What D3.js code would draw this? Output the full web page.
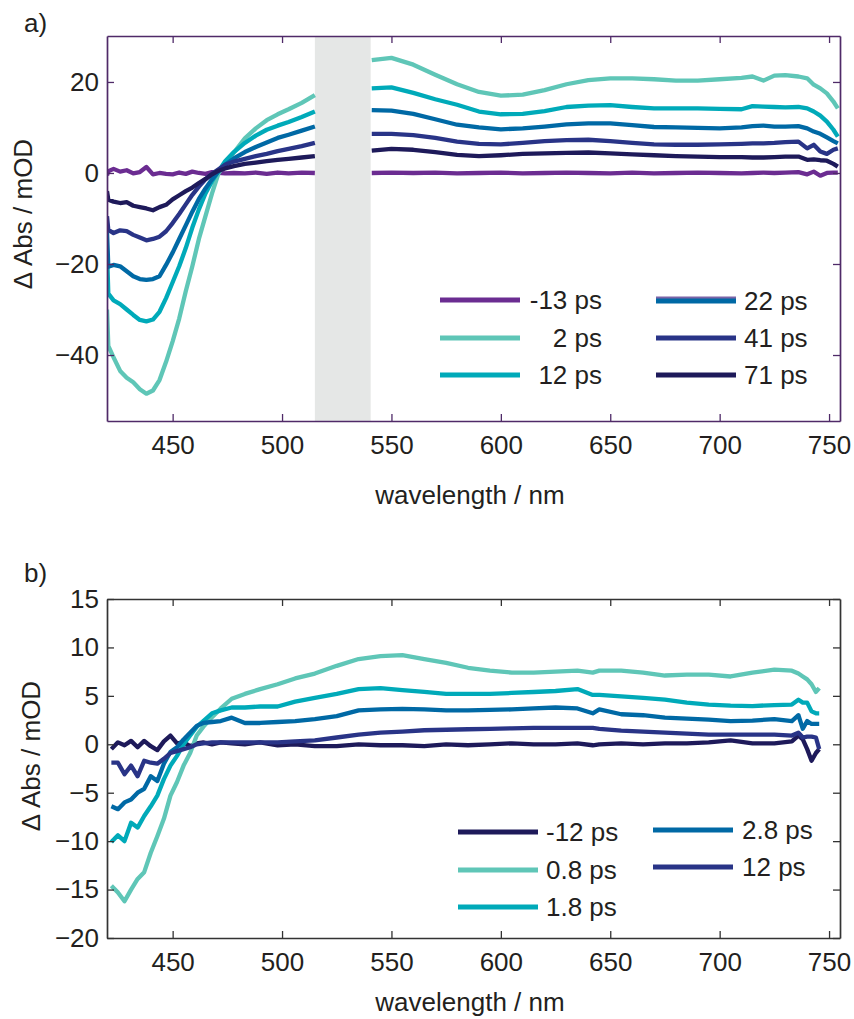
<!DOCTYPE html>
<html>
<head>
<meta charset="utf-8">
<script src="https://cdnjs.cloudflare.com/ajax/libs/d3/7.8.5/d3.min.js"></script>
<style>
body{margin:0;background:#fff}
svg{display:block}
text{font-family:"Liberation Sans",Arial,sans-serif;fill:#231f20}
</style>
</head>
<body>
<svg id="graph" width="854" height="1019"></svg>
<script>
// ---------- panel a data (gap 515-541 nm hidden by the grey band)
const waveA = [420,420.6,423,426,429,432,435,438,441,444,447,450,453,456,459,462,465,468,471,474,478,483,488,493,498,503,509,515,
  528,
  541,550,560,570,580,590,600,610,620,630,640,650,660,670,680,690,700,710,715,720,725,730,736,740,743,746,749,752,754]

const absA_m13 = [-0.5,0.4,0.9,0.3,0.6,-0.1,0.2,1.3,-0.3,0,-0.2,-0.3,0.1,-0.2,0.3,0,-0.2,0.2,0,-0.1,0,-0.1,0.1,-0.2,0.1,-0.1,0.1,0,
  null,
  0,0.1,0,0.1,-0.1,0,0.1,-0.1,0,0.1,0,-0.1,0.1,-0.1,0,0.1,0,-0.1,0,0.1,0,0.1,0.2,-0.3,0.3,-0.6,0,0.1,0.1]
const absA_2 = [-30,-38,-40.5,-43.5,-45,-46,-47.5,-48.5,-47.8,-45.5,-41.5,-37,-32,-26,-20.5,-14.5,-9.5,-4.5,0,2,4.5,7.6,9.8,11.6,12.9,14,15.4,17.1,
  null,
  24.8,25.3,23.8,21.6,19.5,17.8,17.0,17.2,18.2,19.5,20.4,20.8,20.8,20.6,20.3,20.3,20.6,20.9,21.2,20.3,21.4,21.5,21.2,20.8,19.4,18.6,17.5,15.7,14.2]
const absA_12 = [-17,-26.5,-28,-28.8,-30,-31.2,-32.3,-32.6,-32.2,-30.5,-27.5,-24,-20.5,-16.5,-12,-8,-4.5,-1.8,0.4,2.6,4.6,6.6,8.2,9.5,10.4,11.2,12.3,13.5,
  null,
  18.6,18.8,17.6,16.2,15.0,13.5,12.9,13.0,13.6,14.5,14.8,14.9,14.5,14.2,14.2,14.2,14.1,14.0,14.7,14.6,14.5,14.4,14.5,14.2,13.5,12.6,11.3,9.5,8.0]
const absA_22 = [-13,-20.6,-20.2,-20.5,-21.6,-22.7,-23.3,-23.5,-23.3,-22.7,-20.2,-17.5,-14.5,-11.5,-8.5,-5.7,-3.4,-1.4,0.4,1.8,3.2,4.6,5.7,6.7,7.7,8.4,9.3,10.2,
  null,
  13.8,13.7,13.0,11.8,10.6,10.0,9.6,9.8,10.2,10.7,10.9,10.9,10.5,10.1,10.0,9.9,9.8,10.0,10.3,10.4,10.2,10.2,10.3,9.8,9.1,8.6,7.8,7.0,6.5]
const absA_41 = [-9.5,-12.5,-13.2,-12.6,-12.8,-13.6,-14.2,-14.8,-14.5,-14,-12.8,-11,-9,-6.9,-4.8,-3,-1.4,-0.2,0.8,1.8,2.5,3.1,3.7,4.2,4.8,5.3,5.9,6.6,
  null,
  8.6,8.6,8.3,7.7,6.9,6.4,6.3,6.6,7.0,7.2,7.3,7.0,6.6,6.3,6.2,6.2,6.3,6.4,6.5,6.5,6.6,6.8,6.9,5.4,6.2,4.7,4.2,5.1,5.4]
const absA_71 = [-4,-5.9,-6.3,-6.6,-6.4,-7.2,-7.5,-7.8,-8.2,-7.5,-7,-5.8,-4.9,-4,-3.2,-2.2,-1.3,-0.3,0.5,1,1.5,2,2.3,2.6,2.9,3.1,3.4,3.7,
  null,
  4.9,5.3,5.1,4.6,4.0,3.7,3.9,4.2,4.3,4.4,4.5,4.3,4.1,3.9,3.7,3.6,3.5,3.5,3.4,3.4,3.5,3.6,3.6,2.9,3.0,2.8,2.7,2.0,1.4]

const labelsA = ['-13 ps','2 ps','12 ps','22 ps','41 ps','71 ps']
const bandA = [515, 540.5]

// ---------- panel b data
const waveB = [422,425,428,431,434,437,440,443,446,449,452,455,458,461,464,468,472,477,483,490,498,506,515,525,535,545,555,565,575,585,
  595,605,615,625,635,642,645,655,665,675,685,695,705,715,725,733,736,738,740,742,744,745.5]

const absB_m12 = [-0.5,0.2,-0.1,0.35,-0.3,0.35,-0.2,-0.6,0.3,0.9,0.1,0.2,-0.2,0.1,0.2,0,0.2,0.1,0,0.2,-0.1,0,-0.2,-0.2,0,-0.1,-0.1,-0.2,0,-0.1,
  0,0.1,0,0,0.1,-0.1,0,0.1,0,0.1,0.1,0.2,0.4,0.1,0.1,0.3,0.9,0.5,-0.5,-1.7,-0.9,-0.5]
const absB_08 = [-14.6,-15.3,-16.2,-15,-13.9,-13.2,-11.2,-9.5,-7.7,-5.3,-3.9,-2.2,-0.9,0.9,1.8,2.8,3.7,4.7,5.2,5.7,6.2,6.8,7.3,8.1,8.8,9.1,9.2,8.8,8.4,7.9,
  7.6,7.4,7.4,7.5,7.6,7.4,7.6,7.6,7.4,7.1,7.2,7.2,7.0,7.4,7.7,7.6,7.3,7.0,6.7,6.2,5.4,5.8]
const absB_18 = [-10.1,-9.4,-10.0,-8.1,-8.6,-7.4,-6.4,-5.3,-3.6,-2.2,-1.2,0,0.9,1.8,2.4,3.2,3.5,3.8,3.8,3.9,3.9,4.4,4.8,5.2,5.7,5.8,5.6,5.4,5.2,5.2,
  5.2,5.3,5.4,5.5,5.7,5.1,5.1,4.95,4.8,4.6,4.3,4.1,4.0,3.95,4.05,4.1,4.6,4.3,4.3,3.4,3.2,3.2]
const absB_28 = [-6.4,-6.7,-6.0,-5.7,-5.0,-4.6,-3.3,-3.8,-2.0,-0.8,-0.3,0.5,1.2,1.9,2.2,2.3,2.4,2.75,2.2,2.2,2.3,2.4,2.6,2.9,3.5,3.6,3.65,3.6,3.5,3.5,
  3.55,3.6,3.7,3.8,3.7,3.2,3.6,3.1,3.0,2.75,2.65,2.55,2.4,2.45,2.6,2.4,3.0,1.6,2.4,2.1,2.1,2.1]
const absB_12 = [-1.9,-1.9,-3.1,-2.2,-3.3,-1.7,-1.9,-2.0,-1.5,-0.9,-0.7,-0.5,-0.3,0,0.1,0.2,0.2,0.2,0.2,0.2,0.2,0.3,0.4,0.7,1.0,1.2,1.3,1.45,1.5,1.55,
  1.6,1.65,1.7,1.7,1.7,1.7,1.6,1.4,1.3,1.2,1.1,1.0,1.0,1.0,1.0,0.9,1.2,0.7,0.8,0.8,0.7,-0.5]

const labelsB = ['-12 ps','0.8 ps','1.8 ps','2.8 ps','12 ps']

const xTicks = [450,500,550,600,650,700,750]
const yTicksA = [-40,-20,0,20]
const yTicksB = [-20,-15,-10,-5,0,5,10,15]

// colours
const cPurple = '#6b2c91', cTeal = '#5fc6b7', cCyan = '#00aab9', cBlue = '#0069a5', cIndigo = '#293487', cNavy = '#1e1a5a'

const svg = d3.select('#graph')
const fs = 26
const minus = d => d3.format('')(d).replace('-', '\u2212')

///////////////////////////////////////////////////

const drawPanel = (opt) => {
  const x = d3.scaleLinear().domain([420, 755]).range([107, 840])
  const y = d3.scaleLinear().domain(opt.ydom).range([opt.bottom, opt.top])
  const g = svg.append('g')

  g.append('clipPath').attr('id', 'clip' + opt.id)
    .append('rect').attr('x', 107).attr('y', opt.top).attr('width', 733).attr('height', opt.bottom - opt.top)

  if (opt.band) {
    g.append('rect')
      .attr('x', x(opt.band[0])).attr('y', opt.top)
      .attr('width', x(opt.band[1]) - x(opt.band[0]))
      .attr('height', opt.bottom - opt.top)
      .attr('fill', '#e5e7e6')
  }

  const line = d3.line()
    .defined(d => d[1] != null)
    .x(d => x(d[0]))
    .y(d => y(d[1]))

  opt.series.forEach(s => {
    g.append('path')
      .datum(opt.wave.map((w, i) => [w, s.values[i]]))
      .attr('d', line)
      .attr('clip-path', `url(#clip${opt.id})`)
      .attr('fill', 'none')
      .attr('stroke', s.color)
      .attr('stroke-width', 4.3)
      .attr('stroke-linejoin', 'round')
  })

  // axes, ticks inward
  const axes = [
    [d3.axisBottom(x).tickValues(xTicks).tickSize(-7).tickSizeOuter(0).tickPadding(15), `translate(0,${opt.bottom})`],
    [d3.axisTop(x).tickValues(xTicks).tickSize(-7).tickSizeOuter(0).tickFormat(''), `translate(0,${opt.top})`],
    [d3.axisLeft(y).tickValues(opt.yticks).tickSize(-7).tickSizeOuter(0).tickPadding(8).tickFormat(minus), 'translate(107,0)'],
    [d3.axisRight(y).tickValues(opt.yticks).tickSize(-7).tickSizeOuter(0).tickFormat(''), 'translate(840,0)']
  ]
  axes.forEach(([ax, tr]) => {
    const a = g.append('g').attr('transform', tr).attr('color', opt.axisColor).call(ax)
    a.selectAll('path').attr('stroke-width', 1.7)
    a.selectAll('line').attr('stroke-width', 1.3)
    a.selectAll('text').attr('font-size', fs).attr('font-family', null).style('fill', '#231f20')
  })

  g.append('text').attr('x', 470).attr('y', opt.xlabelY)
    .attr('text-anchor', 'middle').attr('font-size', fs)
    .text('wavelength / nm')
  g.append('text')
    .attr('transform', `translate(${opt.ylabelX},${opt.ylabelY}) rotate(-90)`)
    .attr('text-anchor', 'middle').attr('font-size', fs)
    .text('\u0394 Abs / mOD')
  g.append('text').attr('x', 24).attr('y', opt.tagY).attr('font-size', fs).text(opt.tag)

  // legend
  opt.legend.forEach(l => {
    if (l.under) {
      g.append('line').attr('x1', l.x1).attr('x2', l.x1 + 80).attr('y1', l.y - 3).attr('y2', l.y - 3)
        .attr('stroke', l.under).attr('stroke-width', 3)
    }
    g.append('line').attr('x1', l.x1).attr('x2', l.x1 + 80).attr('y1', l.y).attr('y2', l.y)
      .attr('stroke', l.color).attr('stroke-width', 5)
    g.append('text').attr('x', l.tx).attr('y', l.y + 9)
      .attr('text-anchor', l.anchor).attr('font-size', fs)
      .text(l.label)
  })
}

drawPanel({
  id: 'a', top: 36, bottom: 421, ydom: [-54.5, 30.1], yticks: yTicksA,
  axisColor: '#4f2a68', band: bandA, wave: waveA,
  series: [
    {color: cPurple, values: absA_m13},
    {color: cTeal, values: absA_2},
    {color: cCyan, values: absA_12},
    {color: cBlue, values: absA_22},
    {color: cIndigo, values: absA_41},
    {color: cNavy, values: absA_71}
  ],
  xlabelY: 504, ylabelX: 32, ylabelY: 214, tag: 'a)', tagY: 32,
  legend: [
    {label: labelsA[0], color: cPurple, x1: 440, tx: 602, anchor: 'end', y: 300},
    {label: labelsA[1], color: cTeal, x1: 440, tx: 602, anchor: 'end', y: 338},
    {label: labelsA[2], color: cCyan, x1: 440, tx: 602, anchor: 'end', y: 375},
    {label: labelsA[3], color: cBlue, under: '#7b64a8', x1: 656, tx: 744, anchor: 'start', y: 301},
    {label: labelsA[4], color: cIndigo, x1: 656, tx: 744, anchor: 'start', y: 338},
    {label: labelsA[5], color: cNavy, x1: 656, tx: 744, anchor: 'start', y: 375}
  ]
})

drawPanel({
  id: 'b', top: 599, bottom: 938, ydom: [-20, 15], yticks: yTicksB,
  axisColor: '#333333', band: null, wave: waveB,
  series: [
    {color: cNavy, values: absB_m12},
    {color: cTeal, values: absB_08},
    {color: cCyan, values: absB_18},
    {color: cBlue, values: absB_28},
    {color: cIndigo, values: absB_12}
  ],
  xlabelY: 1011, ylabelX: 40, ylabelY: 756, tag: 'b)', tagY: 582,
  legend: [
    {label: labelsB[0], color: cNavy, x1: 458, tx: 546, anchor: 'start', y: 832},
    {label: labelsB[1], color: cTeal, x1: 458, tx: 546, anchor: 'start', y: 870},
    {label: labelsB[2], color: cCyan, x1: 458, tx: 546, anchor: 'start', y: 907},
    {label: labelsB[3], color: cBlue, x1: 653, tx: 742, anchor: 'start', y: 830},
    {label: labelsB[4], color: cIndigo, x1: 653, tx: 742, anchor: 'start', y: 867}
  ]
})
</script>
</body>
</html>
